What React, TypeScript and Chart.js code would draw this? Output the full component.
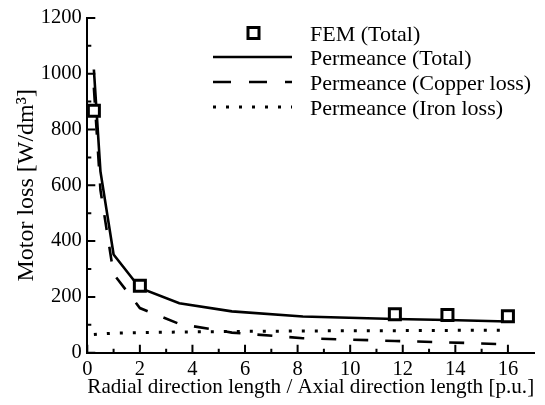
import React, { useEffect, useRef } from 'react';
import { Chart, registerables } from 'chart.js';

Chart.register(...registerables);

// Ratio: radial direction length / axial direction length [p.u.]
const permX = [0.25, 0.5, 1, 2, 3.5, 5.5, 8.2, 11.7, 13.7, 16];
const permTotal = [1015, 650, 352, 232, 177, 148, 130, 121, 117, 112];
const permCopper = [950, 583, 282, 160, 103, 72, 52, 42, 37, 30];
const permIron = [65, 67, 70, 72, 74, 76, 78, 79, 80, 81];

const femX = [0.25, 2, 11.7, 13.7, 16];
const femTotal = [867, 240, 138, 135, 131];

const seriesLabels = [
  'FEM (Total)',
  'Permeance (Total)',
  'Permeance (Copper loss)',
  'Permeance (Iron loss)',
];

const xTitle = 'Radial direction length / Axial direction length [p.u.]';
const yTitle = 'Motor loss [W/dm\u00B3]';

const xMin = 0;
const xMax = 17;
const xStep = 2;
const yMin = 0;
const yMax = 1200;
const yStep = 200;

const FONT = "'Liberation Serif', 'Times New Roman', serif";

const pts = (xs: number[], ys: number[]) => xs.map((x, i) => ({ x, y: ys[i] }));

export default function App() {
  const ref = useRef<HTMLCanvasElement>(null);

  useEffect(() => {
    const canvas = ref.current;
    if (!canvas) return;

    // inward tick marks (major 8px, minor 4px)
    const inwardTicks = {
      id: 'inwardTicks',
      afterDraw(chart: any) {
        const ctx = chart.ctx;
        const xs = chart.scales.x;
        const ys = chart.scales.y;
        const area = chart.chartArea;
        ctx.save();
        ctx.strokeStyle = '#000';
        ctx.lineWidth = 2;
        ctx.beginPath();
        for (let v = xMin; v < xMax; v += 1) {
          const px = xs.getPixelForValue(v);
          const len = v % xStep === 0 ? 8 : 4;
          ctx.moveTo(px, area.bottom);
          ctx.lineTo(px, area.bottom - len);
        }
        for (let v = yMin; v <= yMax; v += yStep / 2) {
          const py = ys.getPixelForValue(v);
          const len = v % yStep === 0 ? 8 : 4;
          ctx.moveTo(area.left, py);
          ctx.lineTo(area.left + len, py);
        }
        ctx.stroke();
        ctx.restore();
      },
    };

    const customLegend = {
      id: 'customLegend',
      afterDraw(chart: any) {
        const ctx = chart.ctx;
        ctx.save();
        const symX0 = 213;
        const symX1 = 292;
        const textX = 310;
        const rowY = [33, 57, 82, 107];
        ctx.font = `22px ${FONT}`;
        ctx.fillStyle = '#000';
        ctx.textBaseline = 'middle';
        ctx.textAlign = 'left';
        seriesLabels.forEach((label, i) => {
          const ds = chart.data.datasets[i];
          const y = rowY[i];
          ctx.save();
          ctx.strokeStyle = '#000';
          if (i === 0) {
            ctx.lineWidth = ds.pointBorderWidth;
            ctx.fillStyle = '#fff';
            const cx = (symX0 + symX1) / 2 + 1;
            ctx.beginPath();
            ctx.rect(cx - 5.5, y - 5.5, 11, 11);
            ctx.fill();
            ctx.stroke();
          } else {
            ctx.lineWidth = ds.borderWidth;
            ctx.lineCap = 'butt';
            ctx.setLineDash(i === 2 ? [18, 18] : ds.borderDash || []);
            ctx.beginPath();
            ctx.moveTo(symX0, y);
            ctx.lineTo(symX1, y);
            ctx.stroke();
          }
          ctx.restore();
          ctx.fillText(label, textX, y + 2);
        });
        ctx.restore();
      },
    };

    const chart = new Chart(canvas, {
      type: 'line',
      data: {
        datasets: [
          {
            label: seriesLabels[0],
            data: pts(femX, femTotal),
            showLine: false,
            pointStyle: 'rect',
            pointRadius: 7.8,
            pointBorderWidth: 3,
            pointBorderColor: '#000',
            pointBackgroundColor: '#fff',
            borderColor: '#000',
            backgroundColor: '#fff',
          },
          {
            label: seriesLabels[1],
            data: pts(permX, permTotal),
            borderColor: '#000',
            borderWidth: 2.6,
            pointRadius: 0,
            tension: 0,
            fill: false,
          },
          {
            label: seriesLabels[2],
            data: pts(permX, permCopper),
            borderColor: '#000',
            borderWidth: 2.6,
            borderDash: [15, 17],
            pointRadius: 0,
            tension: 0,
            fill: false,
          },
          {
            label: seriesLabels[3],
            data: pts(permX, permIron),
            borderColor: '#000',
            borderWidth: 3,
            borderDash: [3, 10],
            borderCapStyle: 'butt',
            pointRadius: 0,
            tension: 0,
            fill: false,
          },
        ],
      },
      options: {
        responsive: false,
        animation: false,
        layout: { padding: { top: 16, right: 4, left: 0, bottom: 0 } },
        plugins: {
          legend: { display: false },
          tooltip: { enabled: false },
          title: { display: false },
        },
        scales: {
          x: {
            type: 'linear',
            min: xMin,
            max: xMax,
            afterFit: (s: any) => {
              s.height = 52.3;
            },
            ticks: {
              stepSize: xStep,
              includeBounds: false,
              autoSkip: false,
              maxRotation: 0,
              padding: 5,
              color: '#000',
              font: { family: FONT, size: 20.5 },
              callback: (v: any) => String(v),
            },
            grid: {
              drawOnChartArea: false,
              drawTicks: false,
            },
            border: { display: true, color: '#000', width: 2 },
            title: {
              display: true,
              text: xTitle,
              color: '#000',
              font: { family: FONT, size: 22 },
              padding: { top: 0, bottom: 5 },
            },
          },
          y: {
            type: 'linear',
            min: yMin,
            max: yMax,
            afterFit: (s: any) => {
              s.width = 87.3;
            },
            ticks: {
              stepSize: yStep,
              includeBounds: false,
              padding: 5.6,
              color: '#000',
              font: { family: FONT, size: 20.5 },
              callback: (v: any) => String(v),
            },
            grid: {
              drawOnChartArea: false,
              drawTicks: false,
            },
            border: { display: true, color: '#000', width: 2 },
            title: {
              display: true,
              text: yTitle,
              color: '#000',
              font: { family: FONT, size: 24 },
              padding: { top: 12, bottom: 0 },
            },
          },
        },
      },
      plugins: [inwardTicks, customLegend],
    });

    return () => chart.destroy();
  }, []);

  return (
    <div style={{ position: 'fixed', left: 0, top: 0, width: 545, height: 405, background: '#fff' }}>
      <canvas ref={ref} width={545} height={405} />
    </div>
  );
}
